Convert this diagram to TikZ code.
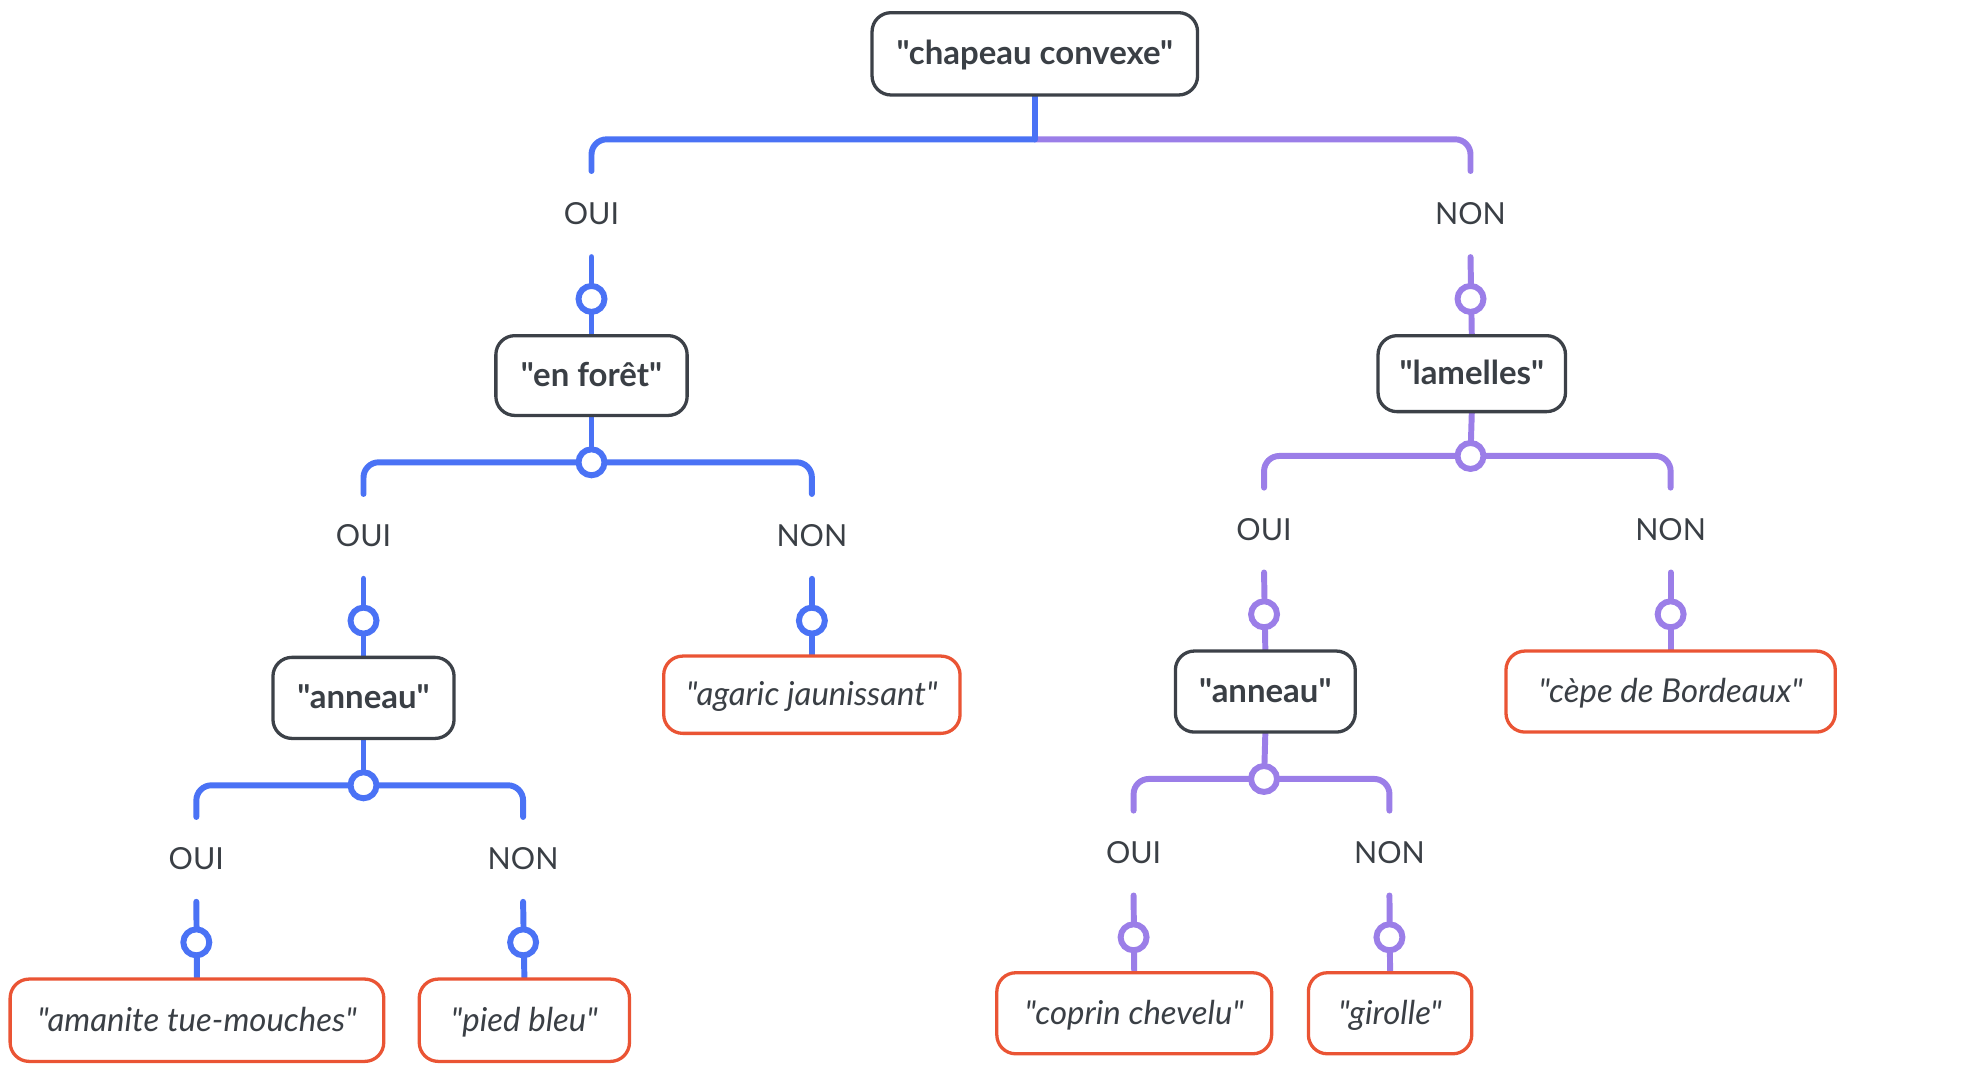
\documentclass[tikz,border=0pt]{standalone}
\usepackage{fontspec}
\setmainfont{Lato}[Ligatures=TeXOff]
\usetikzlibrary{backgrounds}
\definecolor{cblue}{RGB}{74,114,245}
\definecolor{cpurple}{RGB}{155,126,232}
\definecolor{cred}{RGB}{234,84,52}
\definecolor{ctext}{RGB}{58,63,69}
\definecolor{cbox}{RGB}{60,65,72}
\begin{document}
\begin{tikzpicture}[x=1pt,y=-1pt,
  qbox/.style={draw=cbox, line width=2.6pt, rounded corners=15pt, fill=white, text=ctext,
    font=\fontsize{26}{30}\selectfont\bfseries, minimum height=64pt, inner sep=0pt,
    text height=20.7pt, text depth=3.7pt},
  leaf/.style={draw=cred, line width=2.6pt, rounded corners=15pt, fill=white, text=ctext,
    font=\fontsize{26}{30}\selectfont\itshape, minimum height=64pt, inner sep=0pt,
    text height=20.7pt, text depth=3.7pt},
  ans/.style={text=ctext, font=\fontsize{24}{28}\selectfont, inner sep=0pt},
  bl/.style={draw=cblue, line width=4.7pt, line cap=round},
  pl/.style={draw=cpurple, line width=4.7pt, line cap=round},
  knotb/.style={circle, draw=cblue, line width=4.7pt, fill=white, minimum size=20.5pt, inner sep=0pt},
  knotp/.style={circle, draw=cpurple, line width=4.7pt, fill=white, minimum size=20.5pt, inner sep=0pt}
]
\useasboundingbox (0,0) rectangle (1568,851);

% boxes
\node[qbox, minimum width=257pt, minimum height=65pt] (root) at (817,42.5) {"chapeau convexe"};
\node[qbox, minimum width=151pt, minimum height=63pt] (foret) at (467,296.5) {"en forêt"};
\node[qbox, minimum width=143pt] (ann1) at (287,551) {"anneau"};
\node[qbox, minimum width=148pt, minimum height=60pt] (lam) at (1162,295) {"lamelles"};
\node[qbox, minimum width=142pt] (ann2) at (999,546) {"anneau"};
\node[leaf, minimum width=234pt, minimum height=61pt] (agaric) at (641,548.5) {"agaric jaunissant"};
\node[leaf, minimum width=295pt, minimum height=65pt] (amanite) at (155.5,805.5) {"amanite tue-mouches"};
\node[leaf, minimum width=166pt, minimum height=65pt] (pied) at (414,805.5) {"pied bleu"};
\node[leaf, minimum width=260pt] (cepe) at (1319,546) {"cèpe de Bordeaux"};
\node[leaf, minimum width=217pt] (coprin) at (895.5,800) {"coprin chevelu"};
\node[leaf, minimum width=129pt] (girolle) at (1097.5,800) {"girolle"};

% answer labels
\node[ans] (l1) at (467,169) {OUI};
\node[ans] (l2) at (1161,169) {NON};
\node[ans] (l3) at (287,423) {OUI};
\node[ans] (l4) at (641,423) {NON};
\node[ans] (l5) at (155,678) {OUI};
\node[ans] (l6) at (413,678) {NON};
\node[ans] (l7) at (998,418) {OUI};
\node[ans] (l8) at (1319,418) {NON};
\node[ans] (l9) at (895,673) {OUI};
\node[ans] (l10) at (1097,673) {NON};

% junction and end coordinates
\coordinate (j0) at (817,110);
\coordinate (a1) at (467,135);  \coordinate (a2) at (1161,135);
\coordinate (b1) at (467,203);  \coordinate (b2) at (1161,203);
\coordinate (j1) at (467,365);
\coordinate (a3) at (287,390);  \coordinate (a4) at (641,390);
\coordinate (b3) at (287,457);  \coordinate (b4) at (641,457);
\coordinate (j2) at (287,620);
\coordinate (a5) at (155,645);  \coordinate (a6) at (413,645);
\coordinate (b5) at (155,712);  \coordinate (b6) at (413,712);
\coordinate (j3) at (1161,360);
\coordinate (a7) at (998,385);  \coordinate (a8) at (1319,385);
\coordinate (b7) at (998,452);  \coordinate (b8) at (1319,452);
\coordinate (j4) at (998,615);
\coordinate (a9) at (895,640);  \coordinate (a10) at (1097,640);
\coordinate (b9) at (895,707);  \coordinate (b10) at (1097,707);

\begin{scope}[on background layer]
% root
\draw[pl, rounded corners=12pt] (j0) -| (a2);
\draw[bl, rounded corners=12pt] (j0) -| (a1);
\draw[bl] (root.south) -- (j0);
% left branch
\draw[bl] (b1) -- (foret.north);
\draw[bl] (foret.south) -- (j1);
\draw[bl, rounded corners=12pt] (j1) -| (a3);
\draw[bl, rounded corners=12pt] (j1) -| (a4);
\draw[bl] (b3) -- (ann1.north);
\draw[bl] (b4) -- (agaric.north);
\draw[bl] (ann1.south) -- (j2);
\draw[bl, rounded corners=12pt] (j2) -| (a5);
\draw[bl, rounded corners=12pt] (j2) -| (a6);
\draw[bl] (b5) -- (amanite.north);
\draw[bl] (b6) -- (pied.north);
% right branch
\draw[pl] (b2) -- (lam.north);
\draw[pl] (lam.south) -- (j3);
\draw[pl, rounded corners=12pt] (j3) -| (a7);
\draw[pl, rounded corners=12pt] (j3) -| (a8);
\draw[pl] (b7) -- (ann2.north);
\draw[pl] (b8) -- (cepe.north);
\draw[pl] (ann2.south) -- (j4);
\draw[pl, rounded corners=12pt] (j4) -| (a9);
\draw[pl, rounded corners=12pt] (j4) -| (a10);
\draw[pl] (b9) -- (coprin.north);
\draw[pl] (b10) -- (girolle.north);
\end{scope}

% knots
\node[knotb] (k1) at (467,236) {};
\node[knotb] (kj1) at (j1) {};
\node[knotb] (k3) at (287,490) {};
\node[knotb] (k4) at (641,490) {};
\node[knotb] (kj2) at (j2) {};
\node[knotb] (k5) at (155,744) {};
\node[knotb] (k6) at (413,744) {};
\node[knotp] (k2) at (1161,236) {};
\node[knotp] (kj3) at (j3) {};
\node[knotp] (k7) at (998,485) {};
\node[knotp] (k8) at (1319,485) {};
\node[knotp] (kj4) at (j4) {};
\node[knotp] (k9) at (895,740) {};
\node[knotp] (k10) at (1097,740) {};
\end{tikzpicture}
\end{document}
